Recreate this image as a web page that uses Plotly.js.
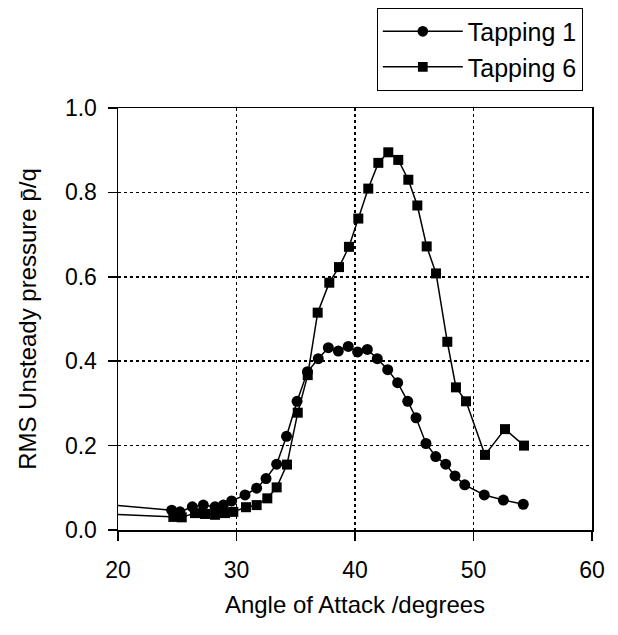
<!DOCTYPE html>
<html>
<head>
<meta charset="utf-8">
<script src="https://cdn.plot.ly/plotly-3.0.1.min.js"></script>
<style>html,body{margin:0;padding:0;background:#fff;}#chart{width:618px;height:635px;}</style>
</head>
<body>
<div id="chart"></div>
<script>
// Tapping 1 (circles)
const tap1Angle = [20.0, 24.53, 25.23, 26.27, 27.20, 28.19, 28.89, 29.59, 30.72, 31.70, 32.49, 33.39, 34.22, 35.11, 35.99, 36.90, 37.75, 38.59, 39.43, 40.22, 41.04, 41.88, 42.76, 43.60, 44.45, 45.15, 45.99, 46.81, 47.65, 48.44, 49.26, 50.91, 52.52, 54.20];
const tap1Rms   = [0.058, 0.047, 0.043, 0.055, 0.059, 0.055, 0.059, 0.069, 0.083, 0.099, 0.122, 0.156, 0.222, 0.305, 0.375, 0.406, 0.432, 0.424, 0.435, 0.422, 0.428, 0.406, 0.380, 0.349, 0.305, 0.266, 0.205, 0.174, 0.156, 0.128, 0.107, 0.083, 0.071, 0.061];
// Tapping 6 (squares)
const tap6Angle = [20.0, 24.67, 25.38, 26.50, 27.34, 28.19, 29.03, 29.73, 30.80, 31.70, 32.60, 33.39, 34.26, 35.17, 36.01, 36.85, 37.83, 38.65, 39.49, 40.28, 41.12, 41.97, 42.81, 43.65, 44.50, 45.26, 46.05, 46.84, 47.79, 48.52, 49.37, 50.97, 52.66, 54.26];
const tap6Rms   = [0.037, 0.031, 0.030, 0.040, 0.038, 0.036, 0.040, 0.043, 0.054, 0.059, 0.075, 0.101, 0.155, 0.278, 0.367, 0.515, 0.586, 0.623, 0.671, 0.738, 0.809, 0.870, 0.895, 0.877, 0.830, 0.769, 0.672, 0.608, 0.446, 0.338, 0.305, 0.178, 0.239, 0.200];
const seriesNames = ["Tapping 1", "Tapping 6"];
const xTicks = [20, 30, 40, 50, 60];
const yTicks = [0, 0.2, 0.4, 0.6, 0.8, 1.0];

const font = "'Liberation Sans', Arial, Helvetica, sans-serif";
function sizes(n, s) { const a = new Array(n).fill(s); a[0] = 0; return a; }

const traces = [
  {x: tap1Angle, y: tap1Rms, name: seriesNames[0], mode: "lines+markers",
   line: {color: "#000", width: 1.5},
   marker: {symbol: "circle", color: "#000", opacity: 1, size: sizes(tap1Angle.length, 11), line: {width: 0}}},
  {x: tap6Angle, y: tap6Rms, name: seriesNames[1], mode: "lines+markers",
   line: {color: "#000", width: 1.5},
   marker: {symbol: "square", color: "#000", opacity: 1, size: sizes(tap6Angle.length, 10), line: {width: 0}}}
];

const axisCommon = {
  showline: true, linecolor: "#000", linewidth: 1.5, mirror: true,
  ticks: "outside", ticklen: 9, tickwidth: 1.5, tickcolor: "#000",
  showgrid: true, gridcolor: "#000", gridwidth: 1.5, griddash: "dot",
  zeroline: false, tickfont: {family: font, size: 23, color: "#000"}
};

const layout = {
  width: 618, height: 635,
  margin: {l: 118, r: 26, t: 107.5, b: 105, autoexpand: false},
  paper_bgcolor: "#fff", plot_bgcolor: "#fff",
  font: {family: font, color: "#000"},
  xaxis: Object.assign({}, axisCommon, {
    range: [20, 60], tickvals: xTicks, ticktext: xTicks.map(String),
    ticklabelstandoff: 10,
    title: {text: "Angle of Attack /degrees", font: {family: font, size: 24, color: "#000"}, standoff: 14}
  }),
  yaxis: Object.assign({}, axisCommon, {
    range: [0, 1], tickvals: yTicks, ticktext: yTicks.map(v => v.toFixed(1)),
    ticklabelstandoff: 6,
    title: {text: "RMS Unsteady pressure p\u0304/q", font: {family: font, size: 24, color: "#000"}, standoff: 21}
  }),
  showlegend: true,
  legend: {
    x: 0.546, y: 1.238, xanchor: "left", yanchor: "top",
    bgcolor: "#fff", bordercolor: "#000", borderwidth: 1,
    font: {family: font, size: 25, color: "#000"},
    itemwidth: 80, tracegroupgap: 0
  }
};

Plotly.newPlot("chart", traces, layout, {displayModeBar: false, staticPlot: true});
</script>
</body>
</html>
